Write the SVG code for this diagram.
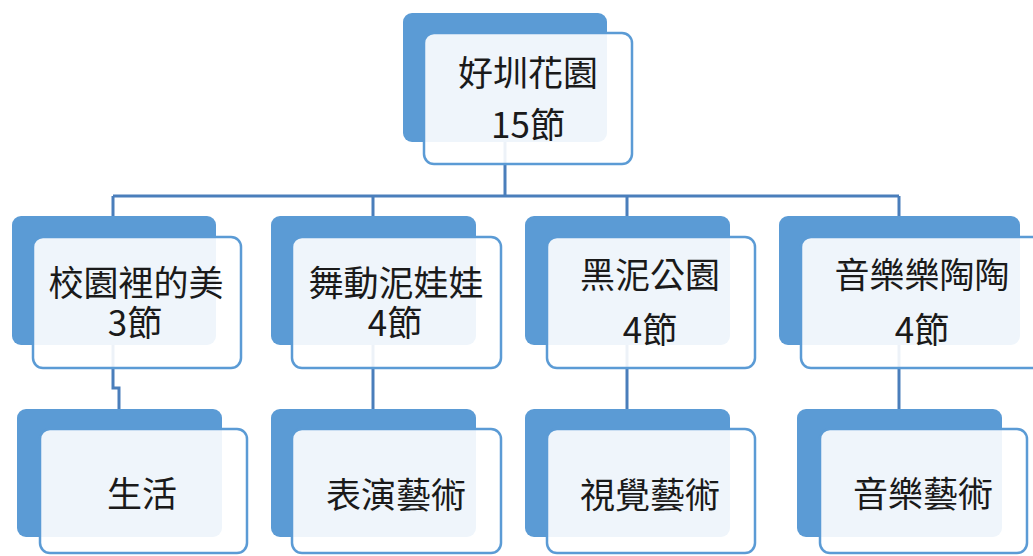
<svg xmlns="http://www.w3.org/2000/svg" width="1033" height="556" viewBox="0 0 1033 556">
<style>
.back{fill:#5B9BD5;}
.front{fill:#ffffff;fill-opacity:0.9;stroke:#5B9BD5;stroke-width:2.5;}
.conn{fill:none;stroke:#4A7EBB;stroke-width:3;}
text{font-family:"Noto Sans CJK TC","Noto Sans",sans-serif;font-size:35px;fill:#1a1a1a;text-anchor:middle;}
</style>
<rect width="1033" height="556" fill="#ffffff"/>
<g id="connectors">
<path class="conn" d="M505,142 V196 M113,196 H899 M113,196 V216 M373,196 V216 M627,196 V216 M899,196 V216"/>
<path class="conn" d="M113,345 V388 H119 V409"/>
<path class="conn" d="M373,345 V409"/>
<path class="conn" d="M627,345 V409"/>
<path class="conn" d="M899,345 V409"/>
</g>
<g id="root">
<rect class="back" x="403" y="13" width="204" height="129" rx="9"/>
<rect class="front" x="424" y="33" width="208" height="131" rx="10"/>
<text x="528" y="86">好圳花園<tspan x="528" y="138">15節</tspan></text>
</g>
<g id="n1">
<rect class="back" x="12" y="216" width="204" height="129" rx="9"/>
<rect class="front" x="33" y="237" width="208" height="131" rx="10"/>
<text x="136" y="296">校園裡的美<tspan x="135" y="336">3節</tspan></text>
</g>
<g id="n2">
<rect class="back" x="271" y="216" width="205" height="129" rx="9"/>
<rect class="front" x="292" y="237" width="209" height="131" rx="10"/>
<text x="396" y="296">舞動泥娃娃<tspan x="395" y="336">4節</tspan></text>
</g>
<g id="n3">
<rect class="back" x="525" y="216" width="205" height="129" rx="9"/>
<rect class="front" x="547" y="237" width="208" height="131" rx="10"/>
<text x="650" y="288">黑泥公園<tspan x="650" y="343">4節</tspan></text>
</g>
<g id="n4">
<rect class="back" x="779" y="216" width="241" height="129" rx="9"/>
<rect class="front" x="801" y="237" width="250" height="131" rx="10"/>
<text x="922" y="288">音樂樂陶陶<tspan x="922" y="343">4節</tspan></text>
</g>
<g id="c1">
<rect class="back" x="17" y="409" width="205" height="128" rx="9"/>
<rect class="front" x="40" y="429" width="207" height="124" rx="10"/>
<text x="142" y="507">生活</text>
</g>
<g id="c2">
<rect class="back" x="271" y="409" width="205" height="128" rx="9"/>
<rect class="front" x="292" y="429" width="209" height="124" rx="10"/>
<text x="396" y="508">表演藝術</text>
</g>
<g id="c3">
<rect class="back" x="525" y="409" width="205" height="128" rx="9"/>
<rect class="front" x="547" y="429" width="208" height="124" rx="10"/>
<text x="650" y="508">視覺藝術</text>
</g>
<g id="c4">
<rect class="back" x="797" y="409" width="205" height="128" rx="9"/>
<rect class="front" x="820" y="429" width="207" height="124" rx="10"/>
<text x="923" y="507">音樂藝術</text>
</g>
</svg>
